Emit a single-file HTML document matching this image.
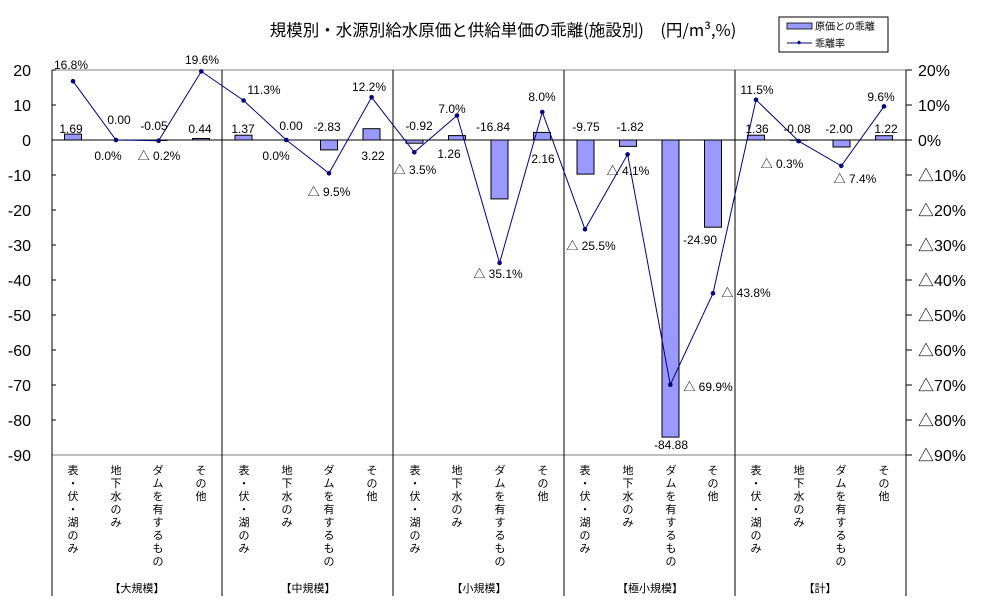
<!DOCTYPE html>
<html><head><meta charset="utf-8"><style>
html,body{margin:0;padding:0;background:#fff}
svg{display:block}
text{font-family:"Liberation Sans","Noto Sans CJK JP",sans-serif;}
.l{font-size:12px;fill:#000}
.ax{font-size:16px;fill:#000}
.c{font-size:11px;fill:#000;font-family:"Noto Sans CJK JP",sans-serif}
</style></head><body>
<svg width="1008" height="603" viewBox="0 0 1008 603" xmlns="http://www.w3.org/2000/svg">
<rect width="1008" height="603" fill="#fff"/>
<text x="503" y="36" text-anchor="middle" style="font-size:16.5px;font-family:'Noto Sans CJK JP',sans-serif">規模別・水源別給水原価と供給単価の乖離(施設別)　(円/m³,%)</text>
<!-- legend -->
<rect x="779" y="17" width="109" height="35" fill="#fff" stroke="#000"/>
<rect x="787" y="23" width="25" height="6" fill="#9999ff" stroke="#000" stroke-width="0.8"/>
<text x="815" y="30" style="font-size:10px;font-family:'Noto Sans CJK JP',sans-serif">原価との乖離</text>
<line x1="787" y1="43" x2="812" y2="43" stroke="#000080"/>
<rect x="797.5" y="41" width="3" height="3" fill="#000080" transform="rotate(45 799 42.5)"/>
<text x="815" y="47" style="font-size:10px;font-family:'Noto Sans CJK JP',sans-serif">乖離率</text>
<!-- plot frame -->
<line x1="52" y1="70" x2="906" y2="70" stroke="#808080"/>
<line x1="52" y1="455" x2="906" y2="455" stroke="#808080"/>
<line x1="52" y1="70" x2="52" y2="596" stroke="#000"/>
<line x1="906" y1="70" x2="906" y2="596" stroke="#000"/>
<g stroke="#000">
<line x1="222" y1="70" x2="222" y2="596"/><line x1="393" y1="70" x2="393" y2="596"/>
<line x1="564" y1="70" x2="564" y2="596"/><line x1="735" y1="70" x2="735" y2="596"/>
<line x1="52" y1="140" x2="906" y2="140"/>
</g>
<g stroke="#000">
<line x1="52" y1="70" x2="56" y2="70"/><line x1="52" y1="105" x2="56" y2="105"/><line x1="52" y1="175" x2="56" y2="175"/><line x1="52" y1="210" x2="56" y2="210"/><line x1="52" y1="245" x2="56" y2="245"/><line x1="52" y1="280" x2="56" y2="280"/><line x1="52" y1="315" x2="56" y2="315"/><line x1="52" y1="350" x2="56" y2="350"/><line x1="52" y1="385" x2="56" y2="385"/><line x1="52" y1="420" x2="56" y2="420"/>
<line x1="906" y1="70" x2="912" y2="70"/><line x1="906" y1="105" x2="912" y2="105"/><line x1="906" y1="140" x2="912" y2="140"/><line x1="906" y1="175" x2="912" y2="175"/><line x1="906" y1="210" x2="912" y2="210"/><line x1="906" y1="245" x2="912" y2="245"/><line x1="906" y1="280" x2="912" y2="280"/><line x1="906" y1="315" x2="912" y2="315"/><line x1="906" y1="350" x2="912" y2="350"/><line x1="906" y1="385" x2="912" y2="385"/><line x1="906" y1="420" x2="912" y2="420"/><line x1="906" y1="455" x2="912" y2="455"/>
</g>
<g class="ax" text-anchor="end">
<text x="31" y="76">20</text><text x="31" y="111">10</text><text x="31" y="146">0</text><text x="31" y="181">-10</text><text x="31" y="216">-20</text><text x="31" y="251">-30</text><text x="31" y="286">-40</text><text x="31" y="321">-50</text><text x="31" y="356">-60</text><text x="31" y="391">-70</text><text x="31" y="426">-80</text><text x="31" y="461">-90</text>
</g>
<g class="ax">
<text x="918" y="76">20%</text><text x="918" y="111">10%</text><text x="918" y="146">0%</text><text x="918" y="181">△10%</text><text x="918" y="216">△20%</text><text x="918" y="251">△30%</text><text x="918" y="286">△40%</text><text x="918" y="321">△50%</text><text x="918" y="356">△60%</text><text x="918" y="391">△70%</text><text x="918" y="426">△80%</text><text x="918" y="461">△90%</text>
</g>
<g fill="#9999ff" stroke="#000" stroke-width="1">
<rect x="64.5" y="134.1" width="17" height="5.9"/>
<rect x="150" y="140" width="17" height="0.5"/>
<rect x="192.5" y="138.5" width="17" height="1.5"/>
<rect x="235" y="135.2" width="17" height="4.8"/>
<rect x="320.5" y="140" width="17" height="9.9"/>
<rect x="363" y="128.7" width="17" height="11.3"/>
<rect x="406" y="140" width="17" height="3.2"/>
<rect x="448.5" y="135.6" width="17" height="4.4"/>
<rect x="491" y="140" width="17" height="58.9"/>
<rect x="533.5" y="132.4" width="17" height="7.6"/>
<rect x="577" y="140" width="17" height="34.1"/>
<rect x="619.5" y="140" width="17" height="6.4"/>
<rect x="662" y="140" width="17" height="297.1"/>
<rect x="704.5" y="140" width="17" height="87.2"/>
<rect x="747.5" y="135.2" width="17" height="4.8"/>
<rect x="790" y="140" width="17" height="0.3"/>
<rect x="833" y="140" width="17" height="7"/>
<rect x="875.5" y="135.7" width="17" height="4.3"/>
</g>
<polyline fill="none" stroke="#000080" stroke-width="1" points="73,81.2 116,140 158.6,140.7 201.3,71.4 243.6,100.5 286.3,140 329,173.3 371.6,97.3 414.3,152.3 457,115.5 499.6,262.9 542.3,112 585,229.3 627.6,154.4 670.3,384.7 713,293.3 756,99.8 798.6,141.1 841.3,165.9 884,106.4"/>
<g fill="#000080">
<circle cx="73" cy="81.2" r="2.3"/><circle cx="116" cy="140" r="2.3"/><circle cx="158.6" cy="140.7" r="2.3"/><circle cx="201.3" cy="71.4" r="2.3"/><circle cx="243.6" cy="100.5" r="2.3"/><circle cx="286.3" cy="140" r="2.3"/><circle cx="329" cy="173.3" r="2.3"/><circle cx="371.6" cy="97.3" r="2.3"/><circle cx="414.3" cy="152.3" r="2.3"/><circle cx="457" cy="115.5" r="2.3"/><circle cx="499.6" cy="262.9" r="2.3"/><circle cx="542.3" cy="112" r="2.3"/><circle cx="585" cy="229.3" r="2.3"/><circle cx="627.6" cy="154.4" r="2.3"/><circle cx="670.3" cy="384.7" r="2.3"/><circle cx="713" cy="293.3" r="2.3"/><circle cx="756" cy="99.8" r="2.3"/><circle cx="798.6" cy="141.1" r="2.3"/><circle cx="841.3" cy="165.9" r="2.3"/><circle cx="884" cy="106.4" r="2.3"/>
</g>
<g class="l" text-anchor="middle">
<text x="71" y="69">16.8%</text><text x="71" y="133">1.69</text><text x="119" y="124">0.00</text><text x="108" y="160">0.0%</text>
<text x="154" y="130">-0.05</text><text x="159" y="160">△ 0.2%</text><text x="200" y="133">0.44</text><text x="202" y="64">19.6%</text>
<text x="264" y="94">11.3%</text><text x="243" y="133">1.37</text><text x="291" y="130">0.00</text><text x="276" y="160">0.0%</text>
<text x="327" y="131">-2.83</text><text x="329" y="196">△ 9.5%</text><text x="369" y="91">12.2%</text><text x="373" y="160">3.22</text>
<text x="419" y="130">-0.92</text><text x="415" y="174">△ 3.5%</text><text x="452" y="113">7.0%</text><text x="449" y="158">1.26</text>
<text x="493" y="131">-16.84</text><text x="498" y="278">△ 35.1%</text><text x="542" y="101">8.0%</text><text x="543" y="163">2.16</text>
<text x="586" y="131">-9.75</text><text x="591" y="250">△ 25.5%</text><text x="630" y="131">-1.82</text><text x="628" y="175">△ 4.1%</text>
<text x="671" y="449">-84.88</text><text x="708" y="391">△ 69.9%</text><text x="700" y="244">-24.90</text><text x="746" y="297">△ 43.8%</text>
<text x="757" y="94">11.5%</text><text x="757" y="133">1.36</text><text x="797" y="133">-0.08</text><text x="782" y="168">△ 0.3%</text>
<text x="839" y="133">-2.00</text><text x="855" y="183">△ 7.4%</text><text x="881" y="101">9.6%</text><text x="886" y="133">1.22</text>
</g>
<g class="c" text-anchor="middle">
<text x="73" y="474">表</text><text x="73" y="487">・</text><text x="73" y="500">伏</text><text x="73" y="513">・</text><text x="73" y="526">湖</text><text x="73" y="539">の</text><text x="73" y="552">み</text>
<text x="116" y="474">地</text><text x="116" y="487">下</text><text x="116" y="500">水</text><text x="116" y="513">の</text><text x="116" y="526">み</text>
<text x="158" y="474">ダ</text><text x="158" y="487">ム</text><text x="158" y="500">を</text><text x="158" y="513">有</text><text x="158" y="526">す</text><text x="158" y="539">る</text><text x="158" y="552">も</text><text x="158" y="565">の</text>
<text x="201" y="474">そ</text><text x="201" y="487">の</text><text x="201" y="500">他</text>
<text x="244" y="474">表</text><text x="244" y="487">・</text><text x="244" y="500">伏</text><text x="244" y="513">・</text><text x="244" y="526">湖</text><text x="244" y="539">の</text><text x="244" y="552">み</text>
<text x="287" y="474">地</text><text x="287" y="487">下</text><text x="287" y="500">水</text><text x="287" y="513">の</text><text x="287" y="526">み</text>
<text x="329" y="474">ダ</text><text x="329" y="487">ム</text><text x="329" y="500">を</text><text x="329" y="513">有</text><text x="329" y="526">す</text><text x="329" y="539">る</text><text x="329" y="552">も</text><text x="329" y="565">の</text>
<text x="372" y="474">そ</text><text x="372" y="487">の</text><text x="372" y="500">他</text>
<text x="415" y="474">表</text><text x="415" y="487">・</text><text x="415" y="500">伏</text><text x="415" y="513">・</text><text x="415" y="526">湖</text><text x="415" y="539">の</text><text x="415" y="552">み</text>
<text x="457" y="474">地</text><text x="457" y="487">下</text><text x="457" y="500">水</text><text x="457" y="513">の</text><text x="457" y="526">み</text>
<text x="500" y="474">ダ</text><text x="500" y="487">ム</text><text x="500" y="500">を</text><text x="500" y="513">有</text><text x="500" y="526">す</text><text x="500" y="539">る</text><text x="500" y="552">も</text><text x="500" y="565">の</text>
<text x="543" y="474">そ</text><text x="543" y="487">の</text><text x="543" y="500">他</text>
<text x="585" y="474">表</text><text x="585" y="487">・</text><text x="585" y="500">伏</text><text x="585" y="513">・</text><text x="585" y="526">湖</text><text x="585" y="539">の</text><text x="585" y="552">み</text>
<text x="628" y="474">地</text><text x="628" y="487">下</text><text x="628" y="500">水</text><text x="628" y="513">の</text><text x="628" y="526">み</text>
<text x="671" y="474">ダ</text><text x="671" y="487">ム</text><text x="671" y="500">を</text><text x="671" y="513">有</text><text x="671" y="526">す</text><text x="671" y="539">る</text><text x="671" y="552">も</text><text x="671" y="565">の</text>
<text x="713" y="474">そ</text><text x="713" y="487">の</text><text x="713" y="500">他</text>
<text x="756" y="474">表</text><text x="756" y="487">・</text><text x="756" y="500">伏</text><text x="756" y="513">・</text><text x="756" y="526">湖</text><text x="756" y="539">の</text><text x="756" y="552">み</text>
<text x="799" y="474">地</text><text x="799" y="487">下</text><text x="799" y="500">水</text><text x="799" y="513">の</text><text x="799" y="526">み</text>
<text x="841" y="474">ダ</text><text x="841" y="487">ム</text><text x="841" y="500">を</text><text x="841" y="513">有</text><text x="841" y="526">す</text><text x="841" y="539">る</text><text x="841" y="552">も</text><text x="841" y="565">の</text>
<text x="884" y="474">そ</text><text x="884" y="487">の</text><text x="884" y="500">他</text>
<text x="137" y="592">【大規模】</text><text x="308" y="592">【中規模】</text><text x="479" y="592">【小規模】</text><text x="650" y="592">【極小規模】</text><text x="820" y="592">【計】</text>
</g>
</svg>
</body></html>
